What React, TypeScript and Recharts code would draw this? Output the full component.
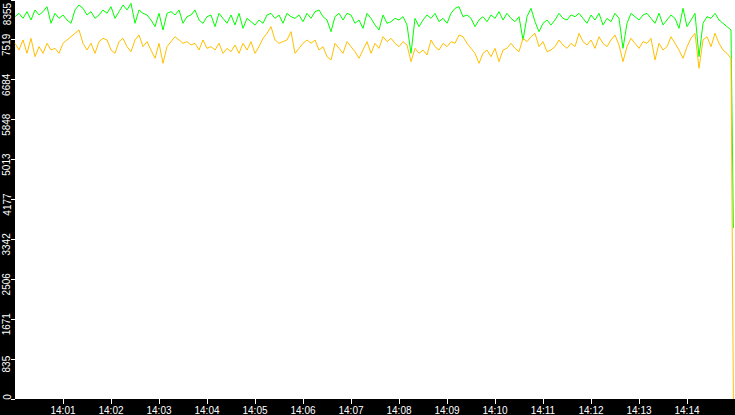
import { LineChart, Line, XAxis, YAxis, CartesianGrid } from "recharts";

// one sample every 5 s from 14:00:00, the last one (the drop) just before 14:15
const STEP_SECONDS = 5;
const LAST_SAMPLE_SECONDS = 898;

const upperSeries = [
  8006, 8076, 7971, 8111, 7936, 8146, 8041, 8111, 8215, 7867, 8076, 7971, 8041, 7936, 7867, 8146, 8250, 8180, 8041, 8111, 7971, 8041, 8146, 8076, 8215, 7971, 8111, 8250, 8146, 8285, 7867, 8146, 8076, 8041, 7936, 7797, 8076, 7727, 8076, 8111, 8041, 8146, 7867, 8006, 8041,
  8146, 7936, 7867, 8006, 8041, 7797, 8076, 7971, 7867, 8041, 7832, 8076, 7762, 7971, 7901, 7832, 7936, 7867, 8041, 8076, 7971, 8041, 7867, 8076, 8006, 7971, 8041, 7901, 8076, 7971, 8111, 8146, 8006, 7936, 7692, 8006, 8076, 7936, 8076, 8041, 7867, 7936, 7762, 8076, 7971,
  7832, 7727, 8041, 7867, 7901, 7971, 7936, 8006, 7832, 7238, 7971, 7797, 7936, 8041, 7971, 8076, 7901, 7971, 7867, 8076, 8180, 8215, 8006, 8041, 7971, 7797, 7936, 8006, 7901, 8041, 7971, 8111, 7936, 8076, 7971, 7901, 8006, 7518, 8006, 8180, 7901, 7692, 7867, 7936, 7832,
  7936, 8076, 7971, 7936, 8041, 8006, 8076, 7971, 7867, 8041, 7936, 8076, 7832, 7971, 7901, 8076, 7971, 7343, 7867, 8076, 8006, 7936, 8041, 8076, 7971, 7867, 8076, 7832, 7936, 8041, 7971, 7762, 8180, 7797, 7936, 8076, 7168, 7867, 8006, 7971, 8076, 7936, 7867, 7797, 7727,
  3580,
];

const lowerSeries = [
  7448, 7308, 7518, 7238, 7553, 7168, 7378, 7238, 7448, 7308, 7343, 7238, 7448, 7518, 7587, 7657, 7727, 7448, 7308, 7448, 7238, 7483, 7553, 7518, 7308, 7238, 7483, 7553, 7378, 7273, 7518, 7622, 7378, 7483, 7308, 7134, 7448, 7029, 7378, 7483, 7587, 7518, 7448, 7483, 7413,
  7448, 7308, 7518, 7343, 7378, 7308, 7448, 7238, 7343, 7273, 7413, 7238, 7448, 7308, 7483, 7238, 7378, 7553, 7657, 7797, 7518, 7448, 7483, 7518, 7692, 7238, 7343, 7448, 7518, 7448, 7518, 7308, 7378, 7168, 7099, 7448, 7343, 7238, 7483, 7378, 7273, 7134, 7308, 7483, 7238,
  7448, 7343, 7587, 7483, 7553, 7448, 7378, 7483, 7413, 7064, 7343, 7238, 7308, 7203, 7518, 7378, 7308, 7448, 7378, 7483, 7448, 7622, 7587, 7448, 7343, 7238, 7029, 7238, 7308, 7168, 7343, 7064, 7308, 7343, 7448, 7343, 7273, 7553, 7483, 7587, 7657, 7378, 7483, 7273, 7308,
  7378, 7518, 7413, 7343, 7448, 7378, 7657, 7483, 7413, 7518, 7343, 7587, 7448, 7378, 7518, 7622, 7413, 7064, 7378, 7553, 7448, 7343, 7483, 7448, 7553, 7099, 7448, 7308, 7378, 7587, 7448, 7308, 7134, 7378, 7553, 7657, 6925, 7518, 7587, 7378, 7657, 7448, 7308, 7238, 7134,
  0,
];

const timeLabels = ["14:01", "14:02", "14:03", "14:04", "14:05", "14:06", "14:07", "14:08", "14:09", "14:10", "14:11", "14:12", "14:13", "14:14"];
const timeTicks = [60, 120, 180, 240, 300, 360, 420, 480, 540, 600, 660, 720, 780, 840];

const yTicks = [0, 835.5, 1671, 2506.5, 3342, 4177.5, 5013, 5848.5, 6684, 7519.5, 8355];
const yLabels = ["0", "835", "1671", "2506", "3342", "4177", "5013", "5848", "6684", "7519", "8355"];

const W = 735;
const H = 415;
const LEFT = 15;
const BOTTOM = 16;
const FONT = "'Liberation Sans', Arial, sans-serif";

const data = upperSeries.map((v, i) => ({
  t: i === upperSeries.length - 1 ? LAST_SAMPLE_SECONDS : i * STEP_SECONDS,
  upper: v,
  lower: lowerSeries[i],
}));

const YTick = (props: any) => {
  const y = props.y;
  const idx = yTicks.indexOf(props.payload.value);
  const cy = Math.min(Math.max(y + 5, 14), 397);
  return (
    <g>
      <line x1={11} x2={LEFT} y1={y} y2={y} stroke="#fff" strokeWidth={1} shapeRendering="crispEdges" />
      <text
        x={7}
        y={cy}
        transform={`rotate(-90 7 ${cy})`}
        textAnchor="middle"
        dominantBaseline="central"
        fill="#fff"
        fontSize={10}
        fontFamily={FONT}
      >
        {yLabels[idx]}
      </text>
    </g>
  );
};

const XTick = (props: any) => {
  const x = props.x;
  const idx = timeTicks.indexOf(props.payload.value);
  const top = H - BOTTOM;
  return (
    <g>
      <line x1={x} x2={x} y1={top} y2={top + 5} stroke="#fff" strokeWidth={1} shapeRendering="crispEdges" />
      <text x={x} y={H - 1} textAnchor="middle" fill="#fff" fontSize={10} fontFamily={FONT}>
        {timeLabels[idx]}
      </text>
    </g>
  );
};

export default function App() {
  return (
    <div style={{ position: "fixed", left: 0, top: 0, width: W, height: H, background: "#000" }}>
      <LineChart width={W} height={H} data={data} margin={{ top: 0, right: 0, left: 0, bottom: 0 }}>
        <CartesianGrid fill="#ffffff" horizontal={false} vertical={false} />
        <XAxis
          dataKey="t"
          type="number"
          domain={[0, 900]}
          ticks={timeTicks}
          interval={0}
          height={BOTTOM}
          axisLine={false}
          tickLine={false}
          tick={<XTick />}
        />
        <YAxis
          type="number"
          domain={[0, 8355]}
          ticks={yTicks}
          interval={0}
          width={LEFT}
          axisLine={false}
          tickLine={false}
          tick={<YTick />}
        />
        <Line dataKey="upper" stroke="#00ff00" strokeWidth={1} dot={false} type="linear" isAnimationActive={false} />
        <Line dataKey="lower" stroke="#ffc000" strokeWidth={1} dot={false} type="linear" isAnimationActive={false} />
      </LineChart>
    </div>
  );
}
